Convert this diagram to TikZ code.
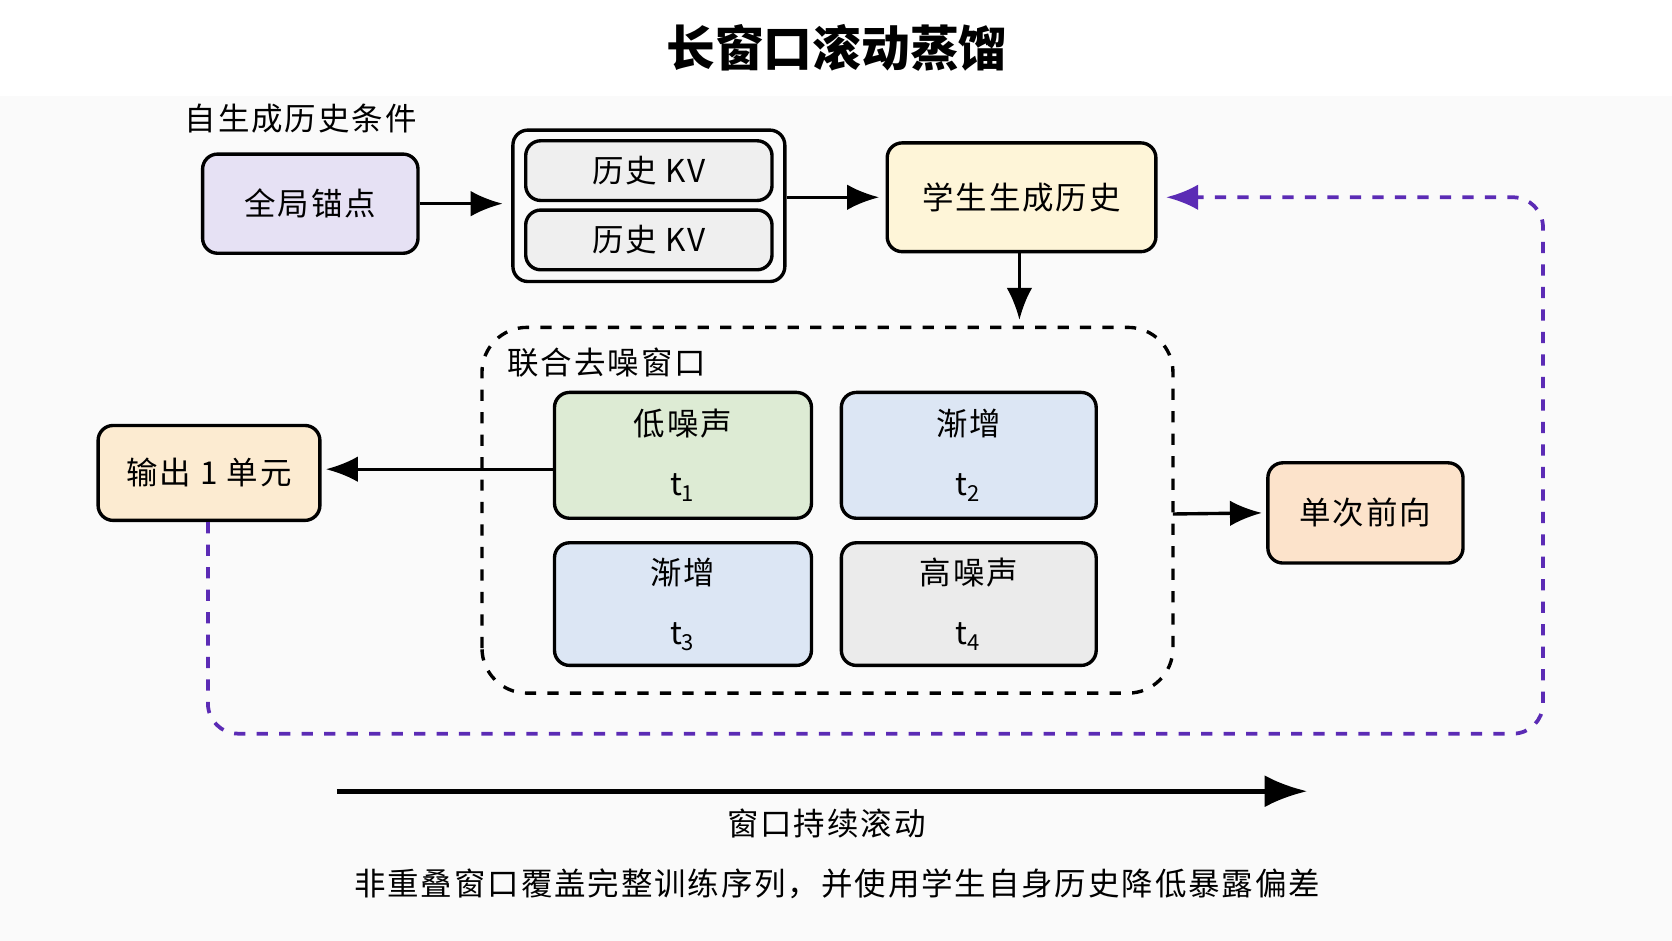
\documentclass[tikz,border=0pt]{standalone}
\usepackage{fontspec}
\setmainfont{Noto Sans CJK SC}
\usetikzlibrary{positioning,calc,arrows.meta}
\definecolor{anchorpurple}{HTML}{E6E1F4}
\definecolor{histgray}{HTML}{EFEFEF}
\definecolor{studyellow}{HTML}{FEF5D8}
\definecolor{lowgreen}{HTML}{DDEBD4}
\definecolor{midblue}{HTML}{DCE6F4}
\definecolor{highgray}{HTML}{EBEBEB}
\definecolor{outorange}{HTML}{FCEBD1}
\definecolor{fwdorange}{HTML}{FCE3CB}
\definecolor{loopviolet}{HTML}{5B2BB5}
\newcommand{\bodyfont}{\fontsize{8.4}{10}\selectfont\addfontfeatures{LetterSpace=6}}
\tikzset{
  blockbox/.style={draw, rounded corners=4pt, line width=0.9pt, align=center, font=\bodyfont},
  flowarrow/.style={-{Latex[length=3mm,width=2.4mm]}, line width=0.9pt}
}
\begin{document}
\begin{tikzpicture}[x=1cm,y=1cm]
    \useasboundingbox (0,0) rectangle (15.68,8.82);
    \fill[white] (0,0) rectangle (15.68,8.82);
    \fill[black!2] (0,0) rectangle (15.68,7.92);
    % Title
    \node[font=\fontsize{13}{15}\selectfont\bfseries] (title) at (7.85,8.37) {长窗口滚动蒸馏};
    \node[font=\bodyfont] (condlabel) at (2.82,7.71) {自生成历史条件};

    % Top row
    \node[blockbox, fill=anchorpurple, minimum width=2.02cm, minimum height=0.93cm] (anchor) at (2.91,6.91) {全局锚点};
    \node[draw, rounded corners=4pt, line width=0.9pt, minimum width=2.55cm, minimum height=1.42cm] (histouter) at (6.085,6.89) {};
    \node[blockbox, fill=histgray, minimum width=2.31cm, minimum height=0.56cm] (kvone) at (6.085,7.22) {历史 KV};
    \node[blockbox, fill=histgray, minimum width=2.31cm, minimum height=0.56cm] (kvtwo) at (6.085,6.57) {历史 KV};
    \node[blockbox, fill=studyellow, minimum width=2.52cm, minimum height=1.02cm] (student) at (9.58,6.97) {学生生成历史};

    \draw[flowarrow] (anchor.east) -- ([xshift=-0.08cm]histouter.west |- anchor.east);
    \draw[flowarrow] (histouter.east |- student.west) -- ([xshift=-0.06cm]student.west);

    % Window
    \draw[dashed, line width=0.9pt, rounded corners=12pt] (4.52,2.32) rectangle (11.00,5.75);
    \coordinate (wintop) at (9.56,5.82);
    \coordinate (winright) at (11.00,4.00);
    \node[font=\bodyfont] (winlabel) at (5.69,5.42) {联合去噪窗口};
    \draw[flowarrow] (student.south -| wintop) -- (wintop);

    \node[blockbox, fill=lowgreen, minimum width=2.41cm, minimum height=1.18cm] (tone) at (6.405,4.55) {低噪声\\[6pt]t\textsubscript{1}};
    \node[blockbox, fill=midblue, minimum width=2.39cm, minimum height=1.18cm] (ttwo) at (9.085,4.55) {渐增\\[6pt]t\textsubscript{2}};
    \node[blockbox, fill=midblue, minimum width=2.41cm, minimum height=1.15cm] (tthree) at (6.405,3.155) {渐增\\[6pt]t\textsubscript{3}};
    \node[blockbox, fill=highgray, minimum width=2.39cm, minimum height=1.15cm] (tfour) at (9.085,3.155) {高噪声\\[6pt]t\textsubscript{4}};

    % Sides
    \node[blockbox, fill=outorange, minimum width=2.08cm, minimum height=0.89cm] (output) at (1.96,4.385) {输出 1 单元};
    \node[blockbox, fill=fwdorange, minimum width=1.83cm, minimum height=0.94cm] (forward) at (12.805,4.01) {单次前向};
    \draw[flowarrow] (tone.west |- 0,4.42) -- ([xshift=0.04cm]output.east |- 0,4.42);
    \draw[flowarrow] (winright) -- ([xshift=-0.04cm]forward.west);

    % Feedback loop
    \draw[loopviolet, dashed, line width=1pt, rounded corners=8pt, -{Latex[length=3mm,width=2.4mm]}]
        (output.south -| 1.95,0) -- (1.95,1.94) -- (14.47,1.94) -- (14.47,6.97) -- ([xshift=0.08cm]student.east);

    % Bottom
    \coordinate (rollstart) at (3.16,1.40);
    \coordinate (rollend) at (12.26,1.40);
    \draw[-{Latex[length=4mm,width=3mm]}, line width=1.3pt] (rollstart) -- (rollend);
    \node[font=\bodyfont] (rolllabel) at (7.75,1.10) {窗口持续滚动};
    \node[font=\bodyfont] (caption) at (7.85,0.53) {非重叠窗口覆盖完整训练序列，并使用学生自身历史降低暴露偏差};
\end{tikzpicture}
\end{document}
